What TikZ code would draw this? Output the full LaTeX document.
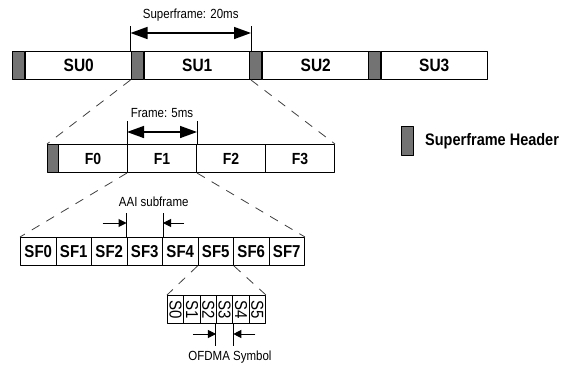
\documentclass[tikz,border=0pt]{standalone}
\usepackage{fontspec}
\setmainfont{Liberation Sans}
\usetikzlibrary{arrows.meta,calc}
\newcommand{\tall}[1]{\scalebox{1}[1.15]{#1}}
\begin{document}
\begin{tikzpicture}[x=1pt,y=-1pt,line join=round,
	box/.style={draw,line width=1pt,inner sep=0pt,anchor=north west,minimum height=28pt},
	hdr/.style={box,fill=black!55,minimum width=12pt},
	zoomline/.style={line width=0.8pt,dash pattern=on 9pt off 8pt,black!75},
	bigarrow/.style={{Triangle[length=17pt,width=12pt]}-{Triangle[length=17pt,width=12pt]},line width=1.5pt},
	smallarrow/.style={-{Triangle[length=8pt,width=8pt]},line width=1pt},
	note/.style={font=\fontsize{11.5}{12}\selectfont}]
	\useasboundingbox (0,0) rectangle (574,367);
	% superframes
	\foreach \i in {0,...,3}{
		\node[hdr] (h\i) at ({12+118.5*\i},51) {};
		\node[box,minimum width=106.5pt,font=\fontsize{15.5}{15}\selectfont\bfseries] (su\i) at (h\i.north east) {\tall{SU\i}\hspace{10pt}};
	}
	% frames
	\node[hdr,minimum width=11pt] (fh) at (47,144) {};
	\foreach \i in {0,...,3}
		\node[box,minimum width=69pt,font=\fontsize{14}{14}\selectfont\bfseries] (f\i) at ({58+69*\i},144) {\tall{F\i}};
	% subframes
	\foreach \i in {0,...,7}
		\node[box,minimum width=35.5pt,font=\fontsize{15}{15}\selectfont\bfseries] (sf\i) at ({20+35.5*\i},237) {\tall{SF\i}};
	% symbols
	\foreach \i in {0,...,5}
		\node[box,minimum width=16.33pt,font=\fontsize{15}{15}\selectfont] (s\i) at ({167+16.33*\i},295) {\rotatebox{-90}{\tall{S\i}}};
	% legend
	\node[hdr,minimum height=29pt] (key) at (401,126) {};
	\node[anchor=west,inner sep=0pt,font=\fontsize{14.5}{15}\selectfont\bfseries] (keytext) at ([xshift=11pt]key.east) {\tall{Superframe Header}};
	% zoom lines
	\draw[zoomline] (h1.south west)--(fh.north west) (su1.south east)--(f3.north east);
	\draw[zoomline] (f1.south west)--(sf0.north west) (f1.south east)--(sf7.north east);
	\draw[zoomline] (sf5.south west)--(s0.north west) (sf5.south east)--(s5.north east);
	% superframe duration
	\draw[line width=1pt] (h1.north west)--++(0,-25) coordinate (sa) (su1.north east)--++(0,-25) coordinate (sb);
	\draw[bigarrow] ([yshift=-7pt]sa)--([yshift=-7pt]sb);
	\node[note] (sftext) at ([yshift=11pt]$(sa)!0.5!(sb)$) {\tall{Superframe: 20ms}};
	% frame duration
	\draw[line width=1pt] (f1.north west)--++(0,-23) coordinate (fa) (f1.north east)--++(0,-23) coordinate (fb);
	\draw[bigarrow] ([yshift=-11pt]fa)--([yshift=-11pt]fb);
	\node[note] (ftext) at ([yshift=8pt]$(fa)!0.5!(fb)$) {\tall{Frame: 5ms}};
	% subframe width
	\draw[line width=1pt] (sf3.north west)--++(0,-24) coordinate (aa) (sf3.north east)--++(0,-24) coordinate (ab);
	\draw[smallarrow] ([shift={(-24pt,-10pt)}]aa)--([yshift=-10pt]aa);
	\draw[smallarrow] ([shift={(21pt,-10pt)}]ab)--([yshift=-10pt]ab);
	\node[note] (aaitext) at ([shift={(9pt,11pt)}]$(aa)!0.5!(ab)$) {\tall{AAI subframe}};
	% symbol width
	\draw[line width=1pt] (s3.south west)--++(0,22) coordinate (oa) (s3.south east)--++(0,22) coordinate (ob);
	\draw[smallarrow] ([shift={(-23pt,12pt)}]oa.north)--([yshift=12pt]oa.north);
	\draw[smallarrow] ([shift={(22pt,12pt)}]ob.north)--([yshift=12pt]ob.north);
	\node[note] (otext) at (230,357) {\tall{OFDMA Symbol}};
\end{tikzpicture}
\end{document}
